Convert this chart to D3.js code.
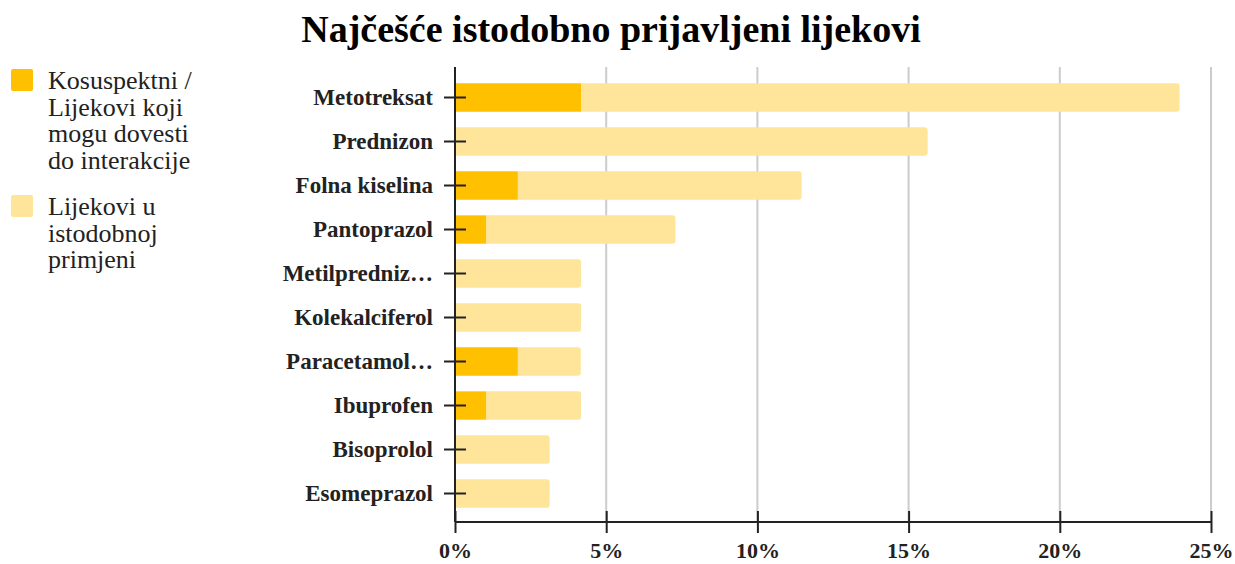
<!DOCTYPE html>
<html>
<head>
<meta charset="utf-8">
<script src="https://cdn.jsdelivr.net/npm/d3@7"></script>
<style>
  body { margin: 0; background: #fff; }
  svg, svg text { font-family: "Liberation Serif", "Times New Roman", serif; }
</style>
</head>
<body>
<div id="chart"></div>
<script>
// Data (percent of reports)
const lijekovi = ["Metotreksat", "Prednizon", "Folna kiselina", "Pantoprazol", "Metilpredniz…",
  "Kolekalciferol", "Paracetamol…", "Ibuprofen", "Bisoprolol", "Esomeprazol"];
const kosuspektni = [4.17, 0, 2.08, 1.04, 0, 0, 2.08, 1.04, 0, 0];
const istodobni = [19.79, 15.63, 9.38, 6.25, 4.17, 4.17, 2.08, 3.13, 3.13, 3.13];
const xTicks = [0, 5, 10, 15, 20, 25];
const seriesNames = ["Kosuspektni / Lijekovi koji mogu dovesti do interakcije", "Lijekovi u istodobnoj primjeni"];
const legendLines = [
  ["Kosuspektni /", "Lijekovi koji", "mogu dovesti", "do interakcije"],
  ["Lijekovi u", "istodobnoj", "primjeni"]
];
const colors = ["#FFC000", "#FFE599"];

const W = 1235, H = 564;
const svg = d3.select("#chart").append("svg").attr("width", W).attr("height", H);

const rows = lijekovi.map((name, i) => ({ name, a: kosuspektni[i], b: istodobni[i] }));
const stacked = d3.stack().keys(["a", "b"])(rows);

// Scales
const x = d3.scaleLinear().domain([0, 25]).range([455, 1211]);
const y = d3.scaleBand().domain(lijekovi).range([75.5, 515.5]).paddingInner(0.355).paddingOuter(0.1775);

// Title
svg.append("text")
  .attr("x", 611).attr("y", 42)
  .attr("text-anchor", "middle")
  .attr("font-size", 38).attr("font-weight", "bold").attr("fill", "#000")
  .text("Najčešće istodobno prijavljeni lijekovi");

// Gridlines
svg.append("g").selectAll("line")
  .data(xTicks.filter(d => d > 0))
  .join("line")
  .attr("x1", d => x(d)).attr("x2", d => x(d))
  .attr("y1", 67).attr("y2", 522)
  .attr("stroke", "#cccccc").attr("stroke-width", 2);

// right-rounded rect path
function barPath(x0, x1, yy, h, r) {
  r = Math.min(r, (x1 - x0));
  return `M${x0},${yy}H${x1 - r}Q${x1},${yy} ${x1},${yy + r}V${yy + h - r}Q${x1},${yy + h} ${x1 - r},${yy + h}H${x0}Z`;
}

// Bars
svg.append("g").selectAll("g")
  .data(stacked)
  .join("g")
  .attr("fill", (d, i) => colors[i])
  .selectAll("path")
  .data((s, si) => s.map(d => ({ d, si })))
  .join("path")
  .filter(({ d }) => d[1] > d[0])
  .attr("d", ({ d, si }) => {
    const last = si === 1 || d.data.b === 0;
    const x0 = x(d[0]), x1 = x(d[1]);
    const yy = y(d.data.name), h = y.bandwidth();
    return last ? barPath(x0, x1, yy, h, 3) : `M${x0},${yy}H${x1}V${yy + h}H${x0}Z`;
  });

// Axes
const yAxis = d3.axisLeft(y).tickSize(11).tickPadding(11);
const gy = svg.append("g").attr("transform", `translate(${x(0)},0)`).call(yAxis)
  .attr("font-family", "Liberation Serif");
gy.select(".domain").remove();
gy.selectAll(".tick line").attr("x1", -11).attr("x2", 11).attr("stroke", "#222").attr("stroke-width", 2);
gy.selectAll(".tick text").attr("font-size", 23).attr("font-weight", "bold").attr("fill", "#222");
gy.append("line").attr("x1", 0).attr("x2", 0).attr("y1", 67).attr("y2", 522)
  .attr("stroke", "#222").attr("stroke-width", 2);

const xAxis = d3.axisBottom(x).tickValues(xTicks).tickFormat(d => d + "%").tickSize(11).tickPadding(0);
const gx = svg.append("g").attr("transform", "translate(0,522)").call(xAxis)
  .attr("font-family", "Liberation Serif");
gx.select(".domain").attr("d", `M${x(0)},0H${x(25)}`).attr("stroke", "#222").attr("stroke-width", 2);
gx.selectAll(".tick line").attr("y1", -11).attr("y2", 11).attr("stroke", "#222").attr("stroke-width", 2);
gx.selectAll(".tick text").attr("font-size", 22).attr("font-weight", "bold").attr("fill", "#222")
  .attr("y", 36).attr("dy", null);

// Legend
const legendTop = [89, 215];
const lg = svg.append("g").selectAll("g")
  .data(seriesNames)
  .join("g");
lg.append("rect")
  .attr("x", 11).attr("y", (d, i) => legendTop[i] - 20)
  .attr("width", 22).attr("height", 22).attr("rx", 2)
  .attr("fill", (d, i) => colors[i]);
lg.append("text")
  .attr("font-size", 26).attr("fill", "#222")
  .selectAll("tspan")
  .data((d, i) => legendLines[i].map(t => ({ t, i })))
  .join("tspan")
  .attr("x", 48)
  .attr("y", (d, j) => legendTop[d.i] + j * 26.5)
  .text(d => d.t);
</script>
</body>
</html>
